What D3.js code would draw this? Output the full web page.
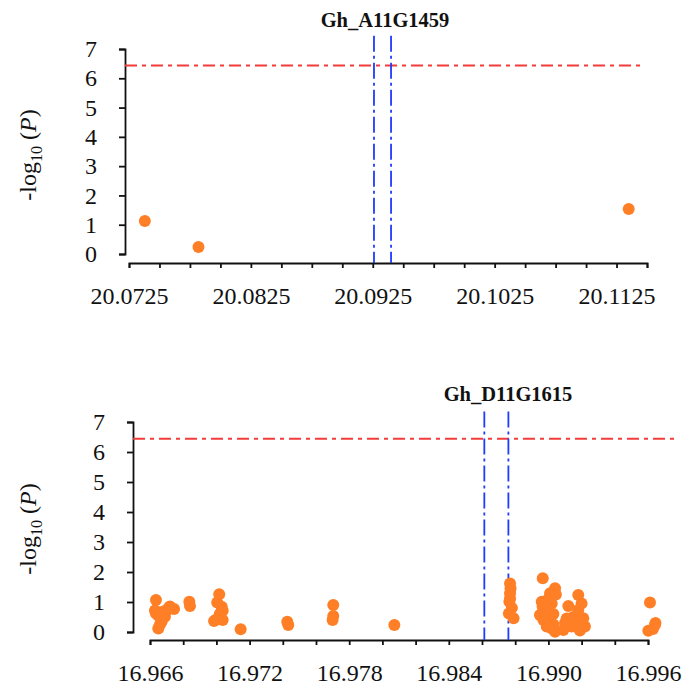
<!DOCTYPE html>
<html>
<head>
<meta charset="utf-8">
<script src="https://cdn.jsdelivr.net/npm/d3@7"></script>
<style>
  body { margin: 0; background: #fff; }
  svg { display: block; }
  text { font-family: "Times New Roman", "Liberation Serif", Tinos, Times, serif; fill: #111; }
</style>
</head>
<body>
<div id="chart"></div>
<script>
// ---- data: top panel (chr A11) ----
const topGene = "Gh_A11G1459";
const topPos = [20.0738, 20.0782, 20.1135];
const topLogP = [1.13, 0.24, 1.54];
const topXLabels = [20.0725, 20.0825, 20.0925, 20.1025, 20.1125];
const topGeneBounds = [20.0926, 20.0940];

// ---- data: bottom panel (chr D11) ----
const botGene = "Gh_D11G1615";
const botPos = [
  16.96636, 16.96630, 16.96636, 16.96650, 16.96660, 16.96670, 16.96690, 16.96710, 16.96745, 16.96660, 16.96680, 16.96700, 16.96650, 16.96720,
  16.96837, 16.96841,
  16.97017, 16.97005, 16.97032, 16.97038, 16.97038, 16.96986, 16.97020, 16.97000,
  16.97146,
  16.97427, 16.97433,
  16.97704, 16.97704, 16.97700,
  16.98072,
  16.98769, 16.98772, 16.98769, 16.98765, 16.98780, 16.98762, 16.98790, 16.98769,
  16.98966, 16.99040, 16.99010, 16.98960, 16.98949, 16.99010, 16.99040, 16.98990, 16.98965, 16.98980, 16.99000, 16.99020, 16.99030, 16.99000, 16.99030, 16.99045, 16.98970, 16.99020,
  16.99180, 16.99120, 16.99180, 16.99210, 16.99140, 16.99220, 16.99090, 16.99100, 16.99160, 16.99190, 16.99150, 16.99130, 16.99200, 16.99110,
  16.99612, 16.99642, 16.99602, 16.99630, 16.99645
];
const botLogP = [
  1.07, 0.72, 0.62, 0.12, 0.25, 0.34, 0.51, 0.79, 0.77, 0.62, 0.68, 0.72, 0.55, 0.85,
  1.01, 0.87,
  1.26, 0.98, 0.84, 0.71, 0.40, 0.37, 0.60, 0.42,
  0.09,
  0.34, 0.23,
  0.90, 0.53, 0.40,
  0.23,
  1.62, 1.45, 1.29, 1.01, 0.80, 0.62, 0.46, 1.12,
  1.79, 1.46, 1.29, 1.01, 0.57, 0.34, 0.01, 0.18, 0.85, 0.70, 1.10, 0.95, 0.60, 0.50, 0.25, 1.25, 0.40, 0.12,
  1.23, 0.87, 0.73, 0.46, 0.18, 0.18, 0.07, 0.30, 0.35, 0.05, 0.50, 0.25, 0.95, 0.45,
  0.98, 0.23, 0.04, 0.10, 0.30
];
const botXLabels = [16.966, 16.972, 16.978, 16.984, 16.990, 16.996];
const botGeneBounds = [16.98614, 16.98759];

const yTicks = [0, 1, 2, 3, 4, 5, 6, 7];
const threshold = 6.44;

const FONT = "'Times New Roman', 'Liberation Serif', Tinos, Times, serif";
const W = 685, H = 691;
const svg = d3.select("#chart").append("svg")
    .attr("width", W)
    .attr("height", H)
    .style("font-family", FONT);

function drawPanel(p) {
    const x = d3.scaleLinear().domain(p.xDomain).range(p.xRange);
    const y = d3.scaleLinear().domain([0, 7]).range(p.yRange);
    const g = svg.append("g");

    // x axis: minor ticks everywhere, labels only on some
    const minor = d3.range(p.nTicks).map(i => p.xDomain[0] + i * p.step);
    const xAxis = d3.axisBottom(x)
        .tickValues(minor)
        .tickSize(5)
        .tickSizeOuter(5)
        .tickPadding(19)
        .tickFormat(d => p.labels.some(l => Math.abs(l - d) < 1e-7) ? p.fmt(d) : "");
    g.append("g")
        .attr("transform", "translate(0," + p.xAxisY + ")")
        .call(xAxis);

    const yAxis = d3.axisLeft(y)
        .tickValues(yTicks)
        .tickSize(6)
        .tickSizeOuter(6)
        .tickPadding(22)
        .tickFormat(d3.format("d"));
    g.append("g")
        .attr("transform", "translate(" + p.yAxisX + ",0)")
        .call(yAxis);

    g.selectAll("g").attr("font-family", FONT);
    g.selectAll(".domain, .tick line")
        .attr("stroke", "#111")
        .attr("stroke-width", 1.8);
    g.selectAll(".tick text")
        .attr("font-size", 24)
        .attr("fill", "#111");

    // threshold line
    g.append("line")
        .attr("x1", p.yAxisX)
        .attr("x2", x(p.redEnd))
        .attr("y1", y(threshold))
        .attr("y2", y(threshold))
        .attr("stroke", "#f43b3b")
        .attr("stroke-width", 2)
        .attr("stroke-dasharray", "12,5,4,5");

    // gene boundaries
    g.selectAll(".gene")
        .data(p.bounds)
        .enter().append("line")
        .attr("x1", d => x(d))
        .attr("x2", d => x(d))
        .attr("y1", y(p.blueTop))
        .attr("y2", p.xAxisY)
        .attr("stroke", "#1f3cff")
        .attr("stroke-width", 1.8)
        .attr("stroke-dasharray", "16,4,3,4");

    // points
    g.selectAll(".pt")
        .data(p.pos.map((d, i) => [d, p.logp[i]]))
        .enter().append("circle")
        .attr("cx", d => x(d[0]))
        .attr("cy", d => y(d[1]))
        .attr("r", 6)
        .attr("fill", "#ff7f27");

    // gene title
    g.append("text")
        .attr("x", p.titleX)
        .attr("y", p.titleY)
        .attr("text-anchor", "middle")
        .attr("font-size", 20.5)
        .attr("font-weight", "bold")
        .text(p.gene);

    // y label: -log10 (P)
    const lab = g.append("text")
        .attr("transform", "translate(" + p.labX + "," + p.labY + ") rotate(-90)")
        .attr("text-anchor", "middle")
        .attr("font-size", 24);
    lab.append("tspan").text("-log");
    lab.append("tspan").attr("font-size", 16).attr("dy", 6).text("10");
    lab.append("tspan").attr("dy", -6).text(" (");
    lab.append("tspan").attr("font-style", "italic").text("P");
    lab.append("tspan").text(")");
}

drawPanel({
    gene: topGene, pos: topPos, logp: topLogP, labels: topXLabels, bounds: topGeneBounds,
    xDomain: [20.0725, 20.115], xRange: [129, 647], nTicks: 18, step: 0.0025,
    fmt: d3.format(".4f"),
    yRange: [254, 49], xAxisY: 263, yAxisX: 125,
    redEnd: 20.1145, blueTop: 7.45,
    titleX: 385, titleY: 27, labX: 36, labY: 155
});

drawPanel({
    gene: botGene, pos: botPos, logp: botLogP, labels: botXLabels, bounds: botGeneBounds,
    xDomain: [16.966, 16.996], xRange: [150, 648], nTicks: 16, step: 0.002,
    fmt: d3.format(".3f"),
    yRange: [632, 422], xAxisY: 640, yAxisX: 133,
    redEnd: 16.9976, blueTop: 7.35,
    titleX: 508, titleY: 401, labX: 36, labY: 529
});
</script>
</body>
</html>
